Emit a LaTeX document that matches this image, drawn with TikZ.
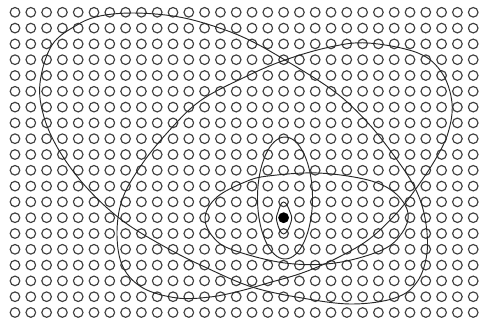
\documentclass[tikz,border=0pt]{standalone}
\usepackage{tikz}

\begin{document}
\begin{tikzpicture}[x=0.03cm,y=-0.03cm,
  hole/.style={draw=black!75,line width=1pt},
  contour/.style={draw=black!85,line width=0.8pt},
  spot/.style={fill=black}
]
\useasboundingbox (0,0) rectangle (480,322);

% grid of sites
\foreach \i in {0,...,29}
  \foreach \j in {0,...,19}
    \draw[hole] (15+15.8*\i,12.3+15.8*\j) circle[radius=4.8];

% stimulated site
\coordinate (S) at (283.6,217.7);
\fill[spot] (S) circle[radius=5.2];

% big contour, upper left to lower right
\draw[contour] plot[smooth cycle,tension=0.6] coordinates {
  (40,83) (52,45) (77,25) (100,16) (133,13) (173,16) (207,24) (245,38)
  (285,60) (335,92) (368,123) (395,157) (415,188) (425,218) (427,253)
  (417,282) (395,298) (352,304) (302,298) (252,287) (207,268) (167,248)
  (123,221) (87,188) (60,152) (44,117)};

% big contour, lower left to upper right
\draw[contour] plot[smooth cycle,tension=0.6] coordinates {
  (117,235) (122,200) (140,167) (167,133) (200,101) (245,77) (285,60)
  (330,47) (368,43) (418,53) (442,73) (452,103) (448,133) (435,160)
  (415,190) (395,215) (368,240) (335,259) (302,273) (268,283) (240,291)
  (210,297) (177,298) (143,288) (123,267)};

% flat contour round the spot
\draw[contour] plot[smooth cycle,tension=0.6] coordinates {
  (205,217) (217,197) (245,182) (268,176) (318,173) (368,180) (395,193)
  (408,213) (402,233) (382,250) (335,263) (285,263) (233,250) (213,237)};

% tall contour and inner contour
\draw[contour] (285,198) ellipse[x radius=27.5,y radius=61];
\draw[contour] plot[smooth cycle,tension=0.8] coordinates {
  (283.6,202) (290,212) (291,222) (283.6,234) (277,222) (278,212)};
\end{tikzpicture}
\end{document}
